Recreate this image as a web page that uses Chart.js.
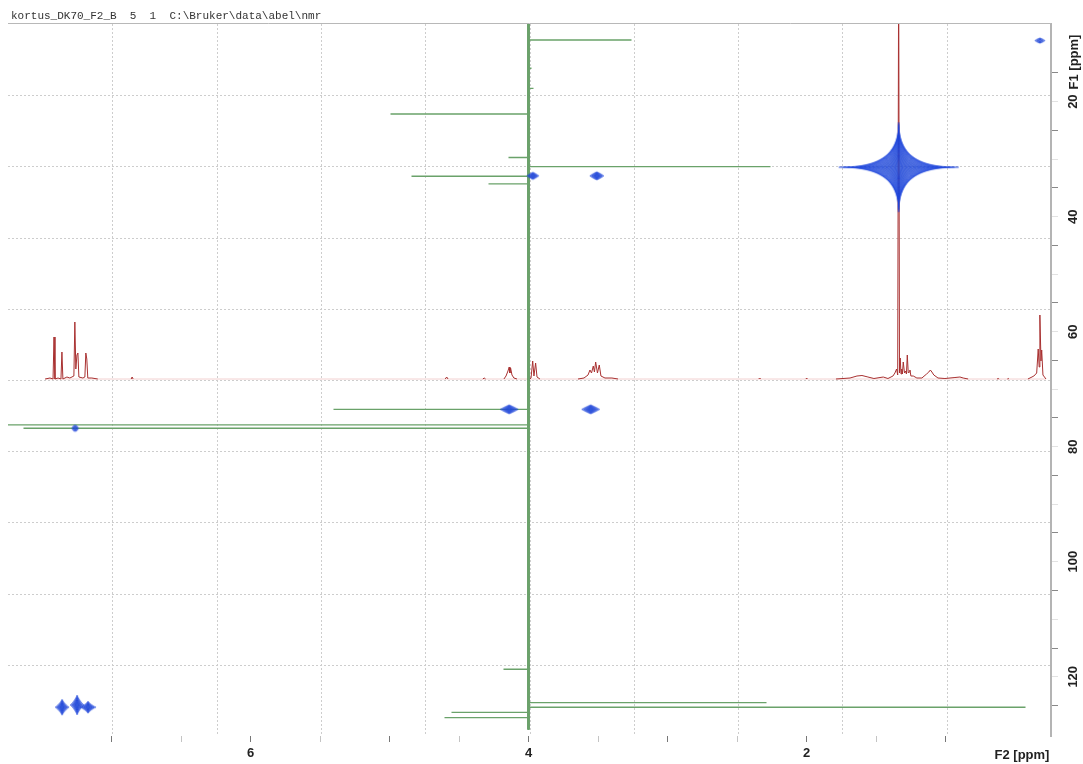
<!DOCTYPE html>
<html>
<head>
<meta charset="utf-8">
<script src="https://cdn.jsdelivr.net/npm/chart.js@4"></script>
<style>
  body { margin: 0; background: #fff; }
  canvas { display: block; }
</style>
</head>
<body>
<canvas id="nmrChart" width="1083" height="764"></canvas>
<script>
// axis ranges (ppm) and labelled ticks
const f2Range = [0.242, 7.746];
const f1Range = [6.5, 130.3];
const f2Labels = [2, 4, 6];
const f1Labels = [20, 40, 60, 80, 100, 120];

// 2D cross peaks (F2 1H ppm, F1 13C ppm)
const peakF2 = [0.322, 3.97, 3.51, 1.338, 4.14, 3.554, 7.263, 7.357, 7.249, 7.17];
const peakF1 = [9.39, 32.9, 32.9, 31.4, 73.5, 73.5, 76.8, 125.3, 124.9, 125.3];

// 1H projection trace (null = gap)
const protonPpm = [
  7.479, 7.444, 7.422, 7.415, 7.408, 7.386, 7.365, 7.358, 7.351, 7.322, 7.301, 7.272,
  7.265, 7.258, 7.250, 7.243, 7.236, 7.207, 7.193, 7.186, 7.179, 7.172, 7.143, 7.100,
  7.0, 6.860, 6.853, 6.846, 6.0,
  4.600, 4.590, 4.580, 4.45, 4.330, 4.320, 4.310, 4.25,
  4.178, 4.163, 4.149, 4.140, 4.135, 4.130, 4.120, 4.106, 4.084, 4.05,
  3.990, 3.983, 3.971, 3.962, 3.950, 3.940, 3.919, 3.8,
  3.645, 3.602, 3.573, 3.559, 3.548, 3.535, 3.527, 3.518, 3.505, 3.492, 3.480, 3.451, 3.401, 3.357, 3.0,
  2.345, 2.338, 2.331, 2.2, 2.005, 2.000, 1.995, 1.9,
  1.789, 1.688, 1.638, 1.602, 1.559, 1.516, 1.449, 1.415, 1.379, 1.365, 1.353, 1.345,
  1.338, 1.332, 1.327, 1.321, 1.316, 1.311, 1.305, 1.296, 1.289, 1.282, 1.276, 1.269,
  1.262, 1.257, 1.250, 1.233, 1.207, 1.171, 1.137, 1.121, 1.110, 1.099, 1.085, 1.055,
  1.005, 0.933, 0.897, 0.874, 0.838, 0.75,
  0.630, 0.622, 0.615, 0.58, 0.556, 0.550, 0.544, 0.45,
  0.408, 0.365, 0.345, 0.334, 0.327, 0.322, 0.314, 0.309, 0.300, 0.278
];
const protonInt = [
  0, 1, 0, 42, 0, 1, 0, 27, 0, 2, 1, 3,
  57, 10, 24, 26, 2, 1, 2, 26, 20, 1, 1, 0,
  null, 0, 2, 0, null,
  0, 2, 0, null, 0, 1, 0, null,
  0, 3, 8, 12, 6, 11, 4, 1, 0, null,
  0, 1, 18, 3, 16, 2, 0, null,
  0, 1, 4, 9, 6, 13, 7, 17, 6, 14, 3, 1, 1, 0, null,
  0, 1, 0, null, 0, 1, 0, null,
  0, 1, 3, 3.5, 2, 0.5, 2, 0.5, 3, 6, 10, 4,
  420, 6, 21, 5, 10, 5, 17, 6, 8, 5, 24, 6,
  7, 9, 3, 3, 1, 1, 5, 7, 9, 7, 4, 1,
  0.5, 1.5, 2, 1, 0, null,
  0, 0.5, 0, null, 0, 0.5, 0, null,
  0, 3, 6, 30, 12, 64, 18, 29, 4, 0
];

// 13C projection sticks (F1 ppm, signed extent)
const carbonShift = [9.27, 14.2, 17.7, 22.14, 29.7, 31.3, 32.97, 34.3, 73.5, 76.2, 76.8, 118.7, 124.5, 125.3, 126.2, 127.1];
const carbonInt = [103, 3, 5, -138, -20, 242, -117, -40, -195, -530, -505, -25, 238, 497, -77, -84];
const carbonEnds = [6.5, 129.2];

// contour glyph per cross peak: half width, half height, levels, spikiness, fill alpha
const peakGlyphs = [
  [5, 2.5, 3, 1.6, 0.4], [6, 3.5, 4, 1.8, 0.5], [7, 4, 4, 1.8, 0.5], [60, 45, 14, 4.2, 0.12],
  [9, 4.5, 4, 1.9, 0.5], [9, 4.5, 4, 1.9, 0.5], [3, 3, 2, 1, 0.6],
  [7, 8, 4, 2.4, 0.5], [7, 10, 4, 2.4, 0.5], [8, 6, 4, 2.4, 0.5]
];

function contourGlyph(w, h, levels, spike, alpha) {
  const c = document.createElement('canvas');
  c.width = Math.ceil(2 * w + 4);
  c.height = Math.ceil(2 * h + 4);
  const g = c.getContext('2d');
  g.translate(c.width / 2, c.height / 2);
  const inner = Math.min(spike, 2.4);
  for (let i = 0; i < levels; i++) {
    const s = 1 - i / levels;
    const e = inner + (spike - inner) * s;
    g.beginPath();
    for (let k = 0; k <= 160; k++) {
      const t = (k / 160) * Math.PI * 2;
      const ct = Math.cos(t), st = Math.sin(t);
      const px = w * s * Math.sign(ct) * Math.pow(Math.abs(ct), e);
      const py = h * Math.sqrt(s) * Math.sign(st) * Math.pow(Math.abs(st), e);
      if (k === 0) g.moveTo(px, py); else g.lineTo(px, py);
    }
    g.closePath();
    g.fillStyle = 'rgba(35, 75, 215, ' + alpha + ')';
    g.fill();
    g.strokeStyle = 'rgba(30, 70, 220, 0.9)';
    g.lineWidth = 0.7;
    g.stroke();
  }
  return c;
}

const peakPoints = peakF2.map((x, i) => ({ x: x, y: peakF1[i] }));
const protonTrace = protonPpm.map((x, i) => ({ x: x, y: protonInt[i] }));
const carbonTrace = [{ x: 0, y: carbonEnds[0] }];
carbonShift.forEach((p, i) => {
  carbonTrace.push({ x: 0, y: p }, { x: carbonInt[i], y: p }, { x: 0, y: p });
});
carbonTrace.push({ x: 0, y: carbonEnds[1] });

const isNear = (v, n) => Math.abs(v - n) < 1e-6;

const frame = {
  id: 'frame',
  beforeDatasetsDraw(chart) {
    const { ctx, chartArea: a } = chart;
    ctx.save();
    ctx.strokeStyle = '#cdcdcd';
    ctx.lineWidth = 1;
    ctx.setLineDash([2, 2]);
    for (let i = 1; i < 10; i++) {
      const x = Math.round(a.left + (a.right - a.left) * i / 10) + 0.5;
      const y = Math.round(a.top + (a.bottom - a.top) * i / 10) + 0.5;
      ctx.beginPath(); ctx.moveTo(x, a.top); ctx.lineTo(x, a.bottom); ctx.stroke();
      ctx.beginPath(); ctx.moveTo(a.left, y); ctx.lineTo(a.right, y); ctx.stroke();
    }
    ctx.restore();
  },
  afterDraw(chart) {
    const { ctx, chartArea: a } = chart;
    ctx.save();
    ctx.strokeStyle = '#b8b8b8';
    ctx.lineWidth = 1;
    ctx.beginPath(); ctx.moveTo(a.left, a.top - 0.5); ctx.lineTo(a.right, a.top - 0.5); ctx.stroke();

    ctx.fillStyle = '#333';
    ctx.font = '11px "Liberation Mono", monospace';
    ctx.textBaseline = 'alphabetic';
    ctx.fillText('kortus_DK70_F2_B  5  1  C:\\Bruker\\data\\abel\\nmr', 11, 19);

    ctx.fillStyle = '#222';
    ctx.font = 'bold 13px "Liberation Sans", Arial, sans-serif';
    ctx.textAlign = 'center';
    ctx.textBaseline = 'middle';
    ctx.fillText('F2 [ppm]', 1022, 755);
    ctx.translate(1074, 62);
    ctx.rotate(-Math.PI / 2);
    ctx.fillText('F1 [ppm]', 0, 0);
    ctx.restore();
  }
};

const tickFont = { family: '"Liberation Sans", Arial, sans-serif', size: 13, weight: 'bold' };

const config = {
  type: 'scatter',
  data: {
    datasets: [
      {
        label: 'cross peaks',
        data: peakPoints,
        xAxisID: 'x', yAxisID: 'y',
        pointStyle: peakGlyphs.map(g => contourGlyph(g[0], g[1], g[2], g[3], g[4])),
        pointRadius: 4,
        order: 0
      },
      {
        label: '1H projection',
        data: protonTrace,
        xAxisID: 'x', yAxisID: 'yP',
        showLine: true, spanGaps: false,
        borderColor: '#a83030', borderWidth: 1,
        pointRadius: 0, tension: 0, clip: 0,
        order: 1
      },
      {
        label: '1H baseline',
        data: [{ x: protonPpm[0], y: 0 }, { x: protonPpm[protonPpm.length - 1], y: 0 }],
        xAxisID: 'x', yAxisID: 'yP',
        showLine: true,
        borderColor: '#f2d0d0', borderWidth: 1,
        pointRadius: 0,
        order: 4
      },
      {
        label: '13C projection',
        data: carbonTrace,
        xAxisID: 'xC', yAxisID: 'y',
        showLine: true,
        borderColor: '#6aa26a', borderWidth: 1.4,
        pointRadius: 0, tension: 0, clip: 0,
        order: 2
      },
      {
        label: '13C baseline',
        data: carbonTrace.filter(p => p.x === 0),
        xAxisID: 'xC', yAxisID: 'y',
        showLine: true,
        borderColor: '#4a8a4a', borderWidth: 2.6,
        pointRadius: 0, clip: 0,
        order: 3
      }
    ]
  },
  options: {
    responsive: false,
    animation: false,
    events: [],
    layout: { padding: { left: 8, top: 24, right: 0, bottom: 0 } },
    plugins: { legend: { display: false }, tooltip: { enabled: false } },
    scales: {
      x: {
        type: 'linear', position: 'bottom', reverse: true,
        min: f2Range[0], max: f2Range[1],
        ticks: {
          stepSize: 0.5, autoSkip: false, maxRotation: 0, padding: 4,
          color: '#222', font: tickFont,
          callback: v => f2Labels.some(n => isNear(v, n)) ? String(Math.round(v)) : ''
        },
        grid: {
          drawOnChartArea: false, tickLength: 6,
          tickColor: c => {
            const v = c.tick ? c.tick.value : 0;
            if (isNear(v, Math.round(v))) return '#777';
            if (isNear(v * 2, Math.round(v * 2))) return '#c4c4c4';
            return 'rgba(0,0,0,0)';
          }
        },
        border: { display: false },
        afterFit: s => { s.height = 28; }
      },
      y: {
        type: 'linear', position: 'right', reverse: true,
        min: f1Range[0], max: f1Range[1],
        ticks: {
          stepSize: 5, autoSkip: false, minRotation: 90, maxRotation: 90,
          crossAlign: 'center', padding: 5,
          color: '#222', font: tickFont,
          callback: v => f1Labels.includes(v) ? String(v) : ''
        },
        grid: {
          drawOnChartArea: false, tickLength: 7,
          tickColor: c => {
            const v = c.tick ? c.tick.value : 0;
            if (v % 10 === 5) return '#888';
            if (v % 10 === 0) return '#e2e2e2';
            return 'rgba(0,0,0,0)';
          }
        },
        border: { display: true, color: '#b4b4b4', width: 2 },
        afterFit: s => { s.width = 32; }
      },
      xC: { type: 'linear', display: false, min: -520.5, max: 522.5 },
      yP: { type: 'linear', display: false, min: -357, max: 355 }
    }
  },
  plugins: [frame]
};

const nmrChart = new Chart(document.getElementById('nmrChart'), config);
</script>
</body>
</html>
